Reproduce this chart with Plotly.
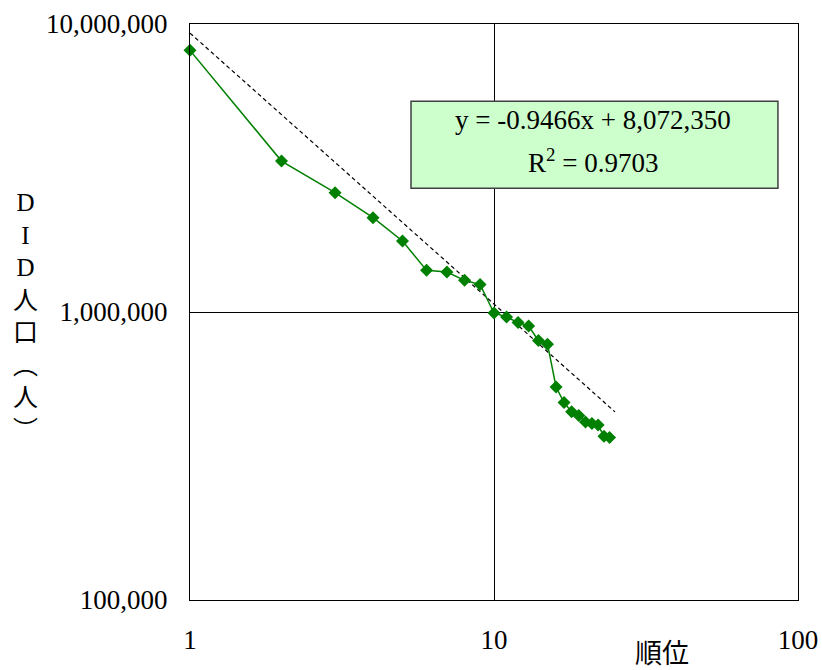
import plotly.graph_objects as go

# ---- data ----
RANK = list(range(1, 25))
DID_POP = [8100000, 3342000, 2596000, 2126000, 1764000, 1395000, 1376000, 1288000,
           1245000, 992000, 961000, 919000, 894000, 796000, 773000, 549000,
           485000, 450000, 437000, 415000, 410000, 405000, 370000, 367000]
# trend line end points
TREND_X = [1, 25]
TREND_Y = [9300000, 450000]
X_TICKS = [1, 10, 100]
X_TICK_TEXT = ["1", "10", "100"]
Y_TICKS = [100000, 1000000, 10000000]
Y_TICK_TEXT = ["100,000", "1,000,000", "10,000,000"]
EQ_TEXT = "y = -0.9466x + 8,072,350"
R2_TEXT = "R<sup>2</sup> = 0.9703"
X_TITLE = "順位"
Y_TITLE_CHARS = ["D", "I", "D", "人", "口", "︵", "人", "︶"]

FONT = "Liberation Serif, Noto Sans CJK JP, serif"
GREEN = "#008000"

fig = go.Figure()
fig.add_trace(go.Scatter(
    x=TREND_X, y=TREND_Y, mode="lines",
    line=dict(color="black", width=1.2, dash="4px,3px"),
    hoverinfo="skip", showlegend=False))
fig.add_trace(go.Scatter(
    x=RANK, y=DID_POP, mode="lines+markers",
    line=dict(color=GREEN, width=1.5),
    marker=dict(symbol="diamond", size=10, color=GREEN),
    showlegend=False, cliponaxis=False))

fig.update_layout(
    width=822, height=670,
    margin=dict(l=190, r=24, t=24, b=70, autoexpand=False),
    paper_bgcolor="white", plot_bgcolor="white",
    font=dict(family=FONT, size=27, color="black"),
    showlegend=False,
)
fig.update_xaxes(
    type="log", range=[0, 2], automargin=False,
    tickvals=X_TICKS, ticktext=X_TICK_TEXT,
    showgrid=True, gridcolor="black", gridwidth=1,
    showline=True, linecolor="black", linewidth=1, mirror=True,
    ticks="", ticklabelstandoff=16, zeroline=False,
    tickfont=dict(family=FONT, size=27),
)
fig.update_yaxes(
    type="log", range=[5, 7], automargin=False,
    tickvals=Y_TICKS, ticktext=Y_TICK_TEXT,
    showgrid=True, gridcolor="black", gridwidth=1,
    showline=True, linecolor="black", linewidth=1, mirror=True,
    ticks="", ticklabelstandoff=16, zeroline=False,
    tickfont=dict(family=FONT, size=27),
)

# equation box
fig.add_shape(type="rect", xref="paper", yref="paper",
              x0=0.3635, x1=0.967, y0=0.715, y1=0.866,
              fillcolor="#CCFFCC", line=dict(color="#404040", width=1.5), layer="above")
fig.add_annotation(xref="paper", yref="paper", x=0.663, y=0.8326,
                   text=EQ_TEXT, showarrow=False, xanchor="center", yanchor="middle",
                   font=dict(family=FONT, size=27))
fig.add_annotation(xref="paper", yref="paper", x=0.663, y=0.763,
                   text=R2_TEXT, showarrow=False, xanchor="center", yanchor="middle",
                   font=dict(family=FONT, size=27))

# axis titles
fig.add_annotation(xref="paper", yref="paper", x=(662 - 190) / 608, y=(600 - 654) / 576,
                   text=X_TITLE, showarrow=False, xanchor="center", yanchor="middle",
                   font=dict(family=FONT, size=27))
fig.add_annotation(xref="paper", yref="paper", x=(25 - 190) / 608, y=(600 - 316) / 576,
                   text="<br>".join(Y_TITLE_CHARS), showarrow=False,
                   xanchor="center", yanchor="middle", align="center",
                   font=dict(family=FONT, size=25))

fig.write_html("out.html", config={"displayModeBar": False},
               post_script="document.body.style.margin='0';")
